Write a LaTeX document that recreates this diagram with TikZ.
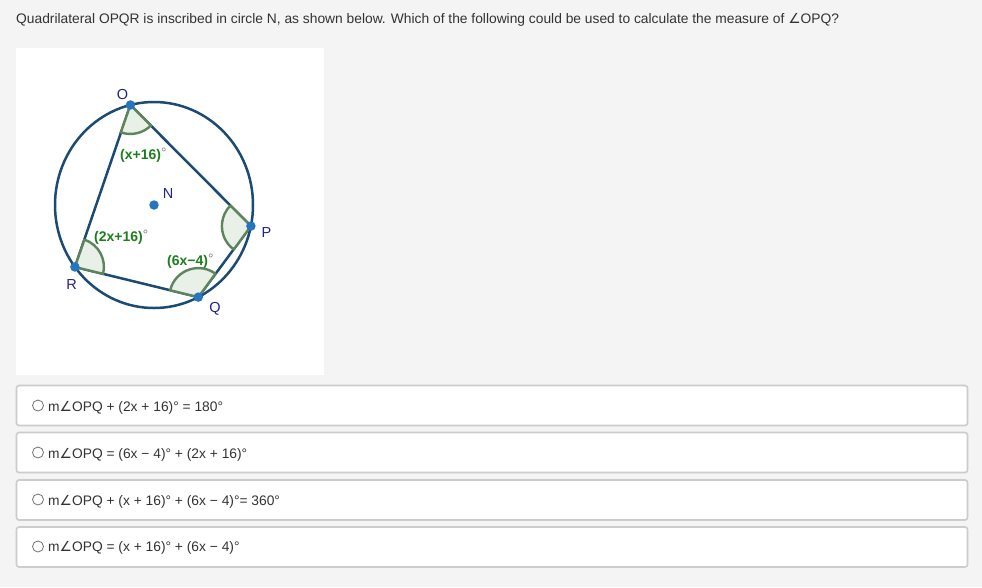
\documentclass[tikz,border=0pt]{standalone}
\usepackage{fontspec}
\setmainfont{Liberation Sans}
\newfontfamily\symfont{DejaVu Sans}
\usetikzlibrary{calc}
\definecolor{pagebg}{HTML}{F4F4F4}
\definecolor{textgray}{HTML}{333333}
\definecolor{boxline}{HTML}{CCCCCC}
\definecolor{circblue}{HTML}{1B4A72}
\definecolor{dotblue}{HTML}{2675C0}
\definecolor{ptlabel}{HTML}{22228A}
\definecolor{anggreen}{HTML}{5E845E}
\definecolor{angfill}{HTML}{E9F0E7}
\definecolor{labgreen}{HTML}{1E7D1E}
\newcommand{\angsym}{{\symfont\char"2220}}
\newcommand{\degmark}{\raisebox{1.5pt}{\textcolor{gray}{\mdseries\fontsize{13.5}{14}\selectfont °}}}

\begin{document}
\begin{tikzpicture}[x=1pt,y=-1pt,
    answerbox/.style={draw=boxline,line width=1.6pt,fill=white,rounded corners=2.5pt,
        minimum width=951pt,minimum height=40pt,inner sep=0pt},
    radio/.style={circle,draw=gray!90!black,fill=white,line width=0.8pt,minimum size=11pt,inner sep=0pt},
    answer/.style={anchor=base west,inner sep=0pt,font=\fontsize{13.8}{16}\selectfont,text=textgray},
    edge/.style={draw=circblue,line width=2.5pt},
    sector/.style={draw=anggreen,fill=angfill,line width=2.4pt,line join=round},
    dot/.style={circle,fill=dotblue,minimum size=9.5pt,inner sep=0pt},
    ptname/.style={text=ptlabel,font=\fontsize{14.5}{16}\selectfont,inner sep=0pt},
    anglabel/.style={text=labgreen,font=\fontsize{14}{16}\selectfont\bfseries,inner sep=0pt,anchor=base west}]
    \useasboundingbox[fill=pagebg] (0,0) rectangle (982,587);

    \node[answer] (question) at (16,23)
        {Quadrilateral OPQR is inscribed in circle N, as shown below. Which of the following could be used to calculate the measure of \angsym OPQ?};

    % figure panel
    \fill[white] (16,48) rectangle (324,375);
    \coordinate (N) at (154,205);
    \coordinate (O) at ($(N)+(-103.8:99 and 103)$);
    \coordinate (P) at ($(N)+(11.8:99 and 103)$);
    \coordinate (Q) at ($(N)+(63.4:99 and 103)$);
    \coordinate (R) at ($(N)+(143:99 and 103)$);

    \draw[edge] (N) ellipse[x radius=99,y radius=103];
    \draw[edge,line join=round] (O) -- (P) -- (Q) -- (R) -- cycle;

    \filldraw[sector] (O) -- ++(45:29) arc[start angle=45,end angle=109.2,radius=29] -- cycle;
    \filldraw[sector] (P) -- ++(126.2:29) arc[start angle=126.2,end angle=225,radius=29] -- cycle;
    \filldraw[sector] (Q) -- ++(-166.3:29) arc[start angle=-166.3,end angle=-53.8,radius=29] -- cycle;
    \filldraw[sector] (R) -- ++(-70.8:29) arc[start angle=-70.8,end angle=13.7,radius=29] -- cycle;

    \foreach \pt in {O,P,Q,R,N}
        \node[dot] (dot\pt) at (\pt) {};

    \node[ptname] (labO) at (122.5,95) {O};
    \node[ptname] (labN) at (168,194) {N};
    \node[ptname] (labP) at (266.5,233) {P};
    \node[ptname] (labQ) at (215,309) {Q};
    \node[ptname] (labR) at (71.5,285) {R};

    \node[anglabel] (angO) at (120,159) {(x+16)\degmark};
    \node[anglabel] (angR) at (94,241) {(2x+16)\degmark};
    \node[anglabel] (angQ) at (167,265) {(6x−4)\degmark};

    % answer choices
    \node[answerbox] (box1) at (492,405.5) {};
    \node[answerbox] (box2) at (492,452.5) {};
    \node[answerbox] (box3) at (492,500) {};
    \node[answerbox] (box4) at (492,547) {};
    \foreach \i/\yc in {1/405.5,2/452.5,3/499.5,4/546.5}
        \node[radio] (radio\i) at (38,\yc) {};

    \node[answer] (ans1) at (48,411.5) {m\angsym OPQ + (2x + 16)° = 180°};
    \node[answer] (ans2) at (48,458.3) {m\angsym OPQ = (6x − 4)° + (2x + 16)°};
    \node[answer] (ans3) at (48,505) {m\angsym OPQ + (x + 16)° + (6x − 4)°= 360°};
    \node[answer] (ans4) at (48,551.8) {m\angsym OPQ = (x + 16)° + (6x − 4)°};
\end{tikzpicture}
\end{document}
